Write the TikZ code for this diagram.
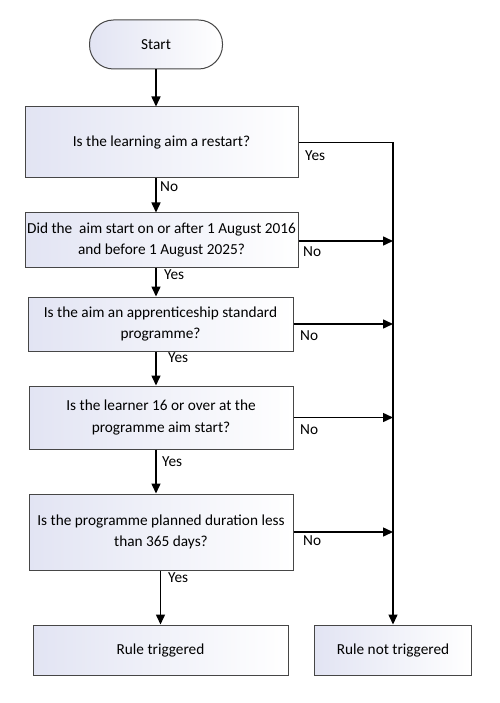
\documentclass[tikz,border=0pt]{standalone}
\usepackage{fontspec}
\setmainfont{Carlito}
\usetikzlibrary{arrows.meta}
\begin{document}
\begin{tikzpicture}[x=1pt,y=-1pt,
  box/.style={draw={rgb,255:red,70;green,70;blue,70}, line width=1pt, left color={rgb,255:red,226;green,228;blue,243}, right color=white, align=center, font=\fontsize{15.3}{21}\selectfont, inner sep=2pt},
  term/.style={box, rounded corners=24pt},
  arr/.style={line width=1.5pt, -{Triangle[length=10pt,width=9pt]}},
  lab/.style={font=\fontsize{15.3}{18}\selectfont, inner sep=0pt, anchor=west}]
\useasboundingbox (0,0) rectangle (499,703);
\fill[white] (0,0) rectangle (499,703);
\node[term, minimum width=133pt, minimum height=49pt] (start) at (156,44.5) {Start};
\node[box, minimum width=273pt, minimum height=71pt] (b1) at (161.5,142.5) {Is the learning aim a restart?};
\node[box, minimum width=273pt, minimum height=54pt] (b2) at (161.5,240) {Did the \ aim start on or after 1 August 2016\\and before 1 August 2025?};
\node[box, minimum width=265pt, minimum height=54pt] (b3) at (160.5,324) {Is the aim an apprenticeship standard\\programme?};
\node[box, minimum width=264pt, minimum height=63pt] (b4) at (161,417.5) {Is the learner 16 or over at the\\programme aim start?};
\node[box, minimum width=264pt, minimum height=76pt] (b5) at (161,532) {Is the programme planned duration less\\than 365 days?};
\node[box, minimum width=255pt, minimum height=50pt] (rt) at (160.5,650) {Rule triggered};
\node[box, minimum width=157pt, minimum height=50pt] (rnt) at (393,650) {Rule not triggered};
\coordinate (col) at (156,0);
% main column
\draw[arr] (start.south) -- (b1.north -| start.south);
\draw[arr] (b1.south -| col) -- (b2.north -| col);
\draw[arr] (b2.south -| col) -- (b3.north -| col);
\draw[arr] (b3.south -| col) -- (b4.north -| col);
\draw[arr] (b4.south -| col) -- (b5.north -| col);
\draw[arr] (b5.south -| rt.north) -- (rt.north);
% right side
\draw[arr] (b1.east) -- (b1.east -| rnt.north) -- (rnt.north);
\draw[arr] ([yshift=-1pt]b2.east) -- ([yshift=-1pt]b2.east -| rnt.north);
\draw[arr] (b3.east) -- (b3.east -| rnt.north);
\draw[arr] (b4.east) -- (b4.east -| rnt.north);
\draw[arr] (b5.east) -- (b5.east -| rnt.north);
% labels
\node[lab] (l1) at (305,156) {Yes};
\node[lab] (l2) at (160,187) {No};
\node[lab] (l3) at (303,252) {No};
\node[lab] (l4) at (164,275) {Yes};
\node[lab] (l5) at (300,336) {No};
\node[lab] (l6) at (168,358) {Yes};
\node[lab] (l7) at (300,430) {No};
\node[lab] (l8) at (162,462) {Yes};
\node[lab] (l9) at (303,541) {No};
\node[lab] (l10) at (168,578) {Yes};
\end{tikzpicture}
\end{document}
